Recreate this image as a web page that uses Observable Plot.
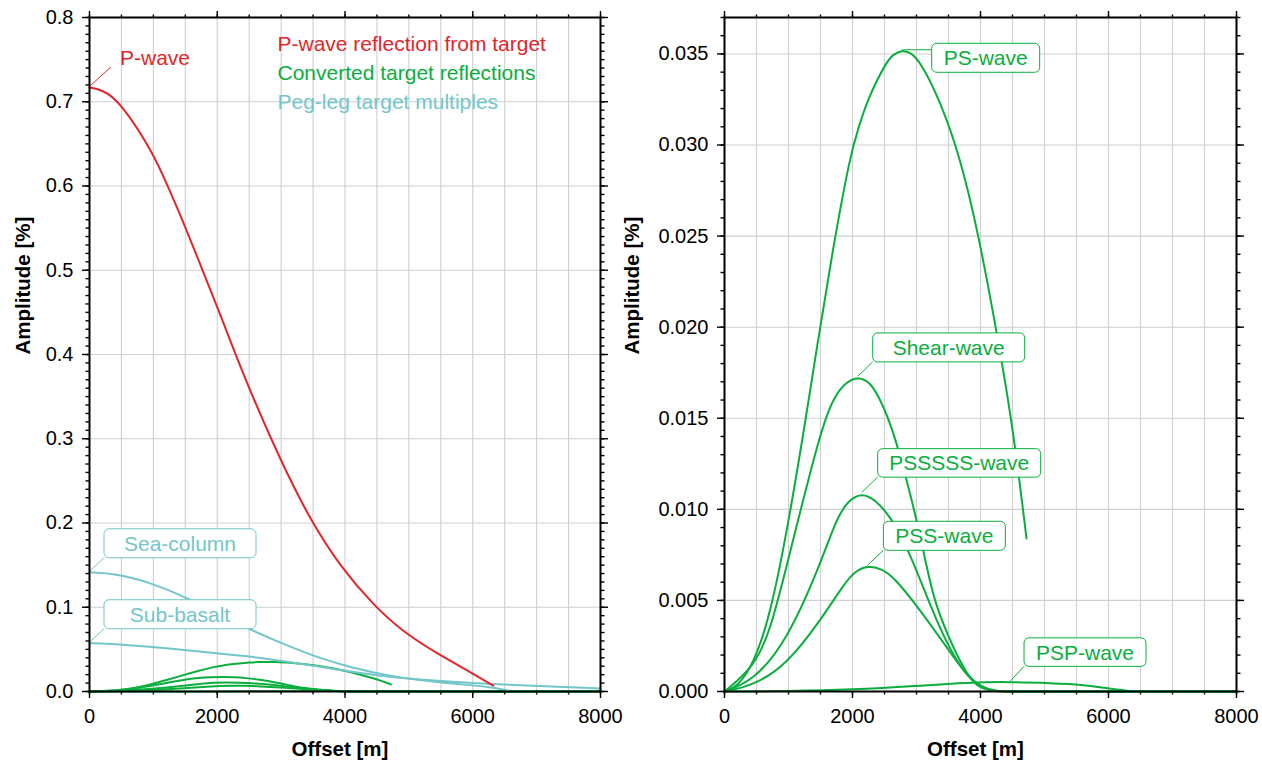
<!DOCTYPE html>
<html><head><meta charset="utf-8">
<script src="https://cdn.jsdelivr.net/npm/d3@7"></script>
<script src="https://cdn.jsdelivr.net/npm/@observablehq/plot@0.6"></script>
<style>
body{margin:0;background:#fff;}
#wrap{position:relative;width:1262px;height:764px;display:flex;background:#fff;}
#wrap svg{display:block;background:none !important;}
#wrap svg:first-child{position:relative;z-index:2;overflow:visible;}
</style></head><body><div id="wrap"></div>
<script>
// ---------- data (amplitude in %) ----------
const offsetPW = [0, 200, 459, 981, 1242, 1503, 1764, 2025, 2442, 2990, 3460, 3930, 4451, 4921, 5443, 5965, 6320];
const ampPW    = [0.717, 0.714, 0.702, 0.642, 0.597, 0.551, 0.501, 0.452, 0.369, 0.274, 0.203, 0.148, 0.102, 0.070, 0.045, 0.023, 0.007];

const offsetSea = [0, 400, 933, 1573, 2000, 2533, 3067, 3600, 4133, 4667, 5200, 5733, 6267, 6560];
const ampSea    = [0.1415, 0.1400, 0.1300, 0.1100, 0.0920, 0.0730, 0.0553, 0.0395, 0.0277, 0.0190, 0.0130, 0.0090, 0.0055, 0.0012];

const offsetSub = [0, 400, 1200, 2000, 2533, 3067, 3600, 4507, 5200, 5733, 6267, 7000, 8000];
const ampSub    = [0.0573, 0.0565, 0.0514, 0.0455, 0.0415, 0.0356, 0.0296, 0.0186, 0.0140, 0.0112, 0.0091, 0.0065, 0.0037];

const offsetPS = [0, 198, 458, 719, 979, 1240, 1448, 1693, 1969, 2100, 2229, 2542, 2650, 2776, 2900, 3062, 3375, 3687, 3974, 4240, 4500, 4719];
const ampPS    = [0, 0.00024, 0.00152, 0.00427, 0.00885, 0.0143, 0.0190, 0.0243, 0.02954, 0.0310, 0.03247, 0.03467, 0.0350, 0.0352, 0.0351, 0.03458, 0.03238, 0.02927, 0.0250, 0.0200, 0.0147, 0.0084];

const offsetShear = [0, 458, 719, 979, 1500, 1708, 1900, 2089, 2280, 2438, 2646, 2958, 3115, 3271, 3500, 3700, 3896, 4104, 4400, 8000];
const ampShear    = [0, 0.00134, 0.00335, 0.00701, 0.01434, 0.01617, 0.0170, 0.01727, 0.01698, 0.0160, 0.0143, 0.0101, 0.0076, 0.0050, 0.0030, 0.0015, 0.0004, 0.00005, 0, 0];

const offsetPSSSSS = [0, 458, 979, 1500, 1760, 1950, 2151, 2350, 2594, 2854, 3062, 3323, 3583, 3844, 4104, 4400, 8000];
const ampPSSSSS    = [0, 0.0006, 0.0028, 0.0070, 0.0096, 0.01054, 0.0109, 0.01054, 0.0096, 0.0079, 0.0061, 0.0038, 0.0019, 0.0006, 0.00005, 0, 0];

const offsetPSS = [0, 458, 979, 1500, 1865, 2050, 2240, 2440, 2646, 3062, 3479, 3792, 4104, 4400, 8000];
const ampPSS    = [0, 0.00033, 0.0015, 0.0039, 0.0059, 0.00664, 0.0069, 0.00676, 0.0063, 0.00445, 0.0024, 0.0008, 0.00005, 0, 0];

const offsetPSP = [0, 1000, 2000, 3000, 3792, 4469, 5094, 5615, 5927, 6292, 6600, 8000];
const ampPSP    = [0, 0.00002, 0.0001, 0.0003, 0.0005, 0.00053, 0.00046, 0.00038, 0.0002, 0.00002, 0, 0];

const legendLabels = ["P-wave reflection from target", "Converted target reflections", "Peg-leg target multiples"];
const xTicksMajor = [0, 2000, 4000, 6000, 8000];
const yTicksLeft = [0, 0.1, 0.2, 0.3, 0.4, 0.5, 0.6, 0.7, 0.8];
const yTicksRight = [0, 0.005, 0.010, 0.015, 0.020, 0.025, 0.030, 0.035];

// ---------- styles ----------
const RED = "#e3262c", GREEN = "#0aae3d", CYAN = "#72c6ca";
const FONT = "'Liberation Sans', Arial, Helvetica, sans-serif";
const zip = (xs, ys) => xs.map((x, i) => ({x, a: ys[i]}));
const series = {
  pw: zip(offsetPW, ampPW), sea: zip(offsetSea, ampSea), sub: zip(offsetSub, ampSub),
  ps: zip(offsetPS, ampPS), shear: zip(offsetShear, ampShear), p5: zip(offsetPSSSSS, ampPSSSSS),
  pss: zip(offsetPSS, ampPSS), psp: zip(offsetPSP, ampPSP)
};
const peak = d => d.reduce((m, p) => p.a > m.a ? p : m, d[0]);
const first = d => d[0];

// smooth part up to the first zero after the peak, then a straight flat tail
function curveMarks(d, stroke) {
  const pk = d.indexOf(peak(d));
  let cut = d.findIndex((p, i) => i > pk && p.a === 0);
  if (cut < 0) cut = d.length - 1;
  const opt = {x: "x", y: "a", stroke, strokeWidth: 2};
  const marks = [Plot.line(d.slice(0, cut + 1), {...opt, curve: "basis"})];
  if (cut < d.length - 1) marks.push(Plot.line(d.slice(cut), {...opt, curve: "linear"}));
  return marks;
}

function labels(specs) {
  return (index, scales) => {
    const g = d3.create("svg:g").attr("font-family", FONT);
    for (const s of specs) {
      const ax = scales.x(s.pt.x), ay = scales.y(s.pt.a);
      const bx = ax + s.dx;
      let by, ex, ey;
      if (s.join === "left") { by = ay + s.dy; ex = bx; ey = ay; }
      else { by = ay + s.dy - s.h; ex = bx; ey = ay + s.dy; }
      if (s.text) { ex = ax + s.lx; ey = ay + s.ly; }
      g.append("line").attr("x1", ax).attr("y1", ay).attr("x2", ex).attr("y2", ey)
        .attr("stroke", s.color).attr("stroke-width", 1);
      if (s.text) {
        g.append("text").attr("x", ax + s.tx).attr("y", ay + s.ty).attr("fill", s.color)
          .attr("text-anchor", "start").attr("font-size", 21).text(s.name);
        continue;
      }
      g.append("rect").attr("x", bx).attr("y", by).attr("width", s.w).attr("height", s.h)
        .attr("rx", 5).attr("fill", "white").attr("stroke", s.color).attr("stroke-width", 1);
      g.append("text").attr("x", bx + s.w / 2).attr("y", by + s.h / 2 + 7.5).attr("text-anchor", "middle")
        .attr("fill", s.color).attr("font-size", 21).text(s.name);
    }
    return g.node();
  };
}

function axes(yMajor, yMinor, yFmt) {
  const xMinor = d3.range(0, 8001, 500);
  const common = {label: null, strokeWidth: 1.4};
  return [
    Plot.axisX(xTicksMajor, {...common, anchor: "bottom", tickSize: 7, tickPadding: 10, fontSize: 20, tickFormat: d3.format("d")}),
    Plot.axisX(xMinor, {...common, anchor: "bottom", tickSize: 3.5, tickFormat: () => ""}),
    Plot.axisX(xTicksMajor, {...common, anchor: "top", tickSize: 7, tickFormat: () => ""}),
    Plot.axisX(xMinor, {...common, anchor: "top", tickSize: 3.5, tickFormat: () => ""}),
    Plot.axisY(yMajor, {...common, anchor: "left", tickSize: 7, tickPadding: 9, fontSize: 20, tickFormat: d3.format(yFmt)}),
    Plot.axisY(yMinor, {...common, anchor: "left", tickSize: 3.5, tickFormat: () => ""}),
    Plot.axisY(yMajor, {...common, anchor: "right", tickSize: 7, tickFormat: () => ""}),
    Plot.axisY(yMinor, {...common, anchor: "right", tickSize: 3.5, tickFormat: () => ""})
  ];
}

const grid = (yg) => [
  Plot.gridX(d3.range(0, 8001, 500), {stroke: "#cfcfcf", strokeOpacity: 1, strokeWidth: 1.1}),
  Plot.gridY(yg, {stroke: "#cfcfcf", strokeOpacity: 1, strokeWidth: 1.1})
];
const titles = (ydx) => [
  Plot.text(["Offset [m]"], {frameAnchor: "bottom", dy: 64, dx: -5, text: d => d, fontWeight: "bold", fontSize: 20.5, fill: "black"}),
  Plot.text(["Amplitude [%]"], {frameAnchor: "left", dx: ydx, rotate: -90, text: d => d, fontWeight: "bold", fontSize: 20.5, fill: "black"})
];
const greens = ["ps", "shear", "p5", "pss", "psp"];

const left = Plot.plot({
  width: 612, height: 764, marginLeft: 89, marginRight: 12, marginTop: 17, marginBottom: 73,
  style: {fontFamily: FONT, background: "none", color: "black", overflow: "visible"},
  x: {domain: [0, 8000], label: null}, y: {domain: [0, 0.8], label: null},
  marks: [
    ...grid(yTicksLeft),
    ...greens.flatMap(k => curveMarks(series[k], GREEN)),
    ...curveMarks(series.sub, CYAN),
    ...curveMarks(series.sea, CYAN),
    ...curveMarks(series.pw, RED),
    labels([
      {name: "P-wave", pt: first(series.pw), color: RED, text: true, lx: 22, ly: -20, tx: 31, ty: -22},
      {name: "Sea-column", pt: first(series.sea), color: CYAN, dx: 15, dy: -14, w: 152, h: 29},
      {name: "Sub-basalt", pt: first(series.sub), color: CYAN, dx: 15, dy: -14, w: 152, h: 29}
    ]),
    ...legendLabels.map((t, i) => Plot.text([t], {frameAnchor: "top-left", dx: 188, dy: 19 + 29 * i, textAnchor: "start",
      text: d => d, fill: [RED, GREEN, CYAN][i], fontSize: 21})),
    Plot.frame({stroke: "black", strokeWidth: 2}),
    ...axes(yTicksLeft, d3.range(0, 0.8001, 0.01), ".1f"),
    ...titles(-66)
  ]
});

const right = Plot.plot({
  width: 650, height: 764, marginLeft: 112, marginRight: 26, marginTop: 17, marginBottom: 73,
  style: {fontFamily: FONT, background: "none", color: "black"},
  x: {domain: [0, 8000], label: null}, y: {domain: [0, 0.037], label: null},
  marks: [
    ...grid(yTicksRight),
    ...greens.flatMap(k => curveMarks(series[k], GREEN)),
    labels([
      {name: "PS-wave", pt: peak(series.ps), color: GREEN, join: "left", dx: 30, dy: -6.5, w: 108, h: 29},
      {name: "Shear-wave", pt: peak(series.shear), color: GREEN, dx: 15, dy: -14.5, w: 152, h: 29},
      {name: "PSSSSS-wave", pt: peak(series.p5), color: GREEN, dx: 16, dy: -15.3, w: 163, h: 28.5},
      {name: "PSS-wave", pt: peak(series.pss), color: GREEN, dx: 16, dy: -15, w: 122, h: 29},
      {name: "PSP-wave", pt: peak(series.psp), color: GREEN, dx: 14, dy: -15, w: 122, h: 28.5}
    ]),
    Plot.frame({stroke: "black", strokeWidth: 2}),
    ...axes(yTicksRight, d3.range(0, 0.03701, 0.001), ".3f"),
    ...titles(-92)
  ]
});

document.getElementById("wrap").append(left, right);
</script>
</body></html>
